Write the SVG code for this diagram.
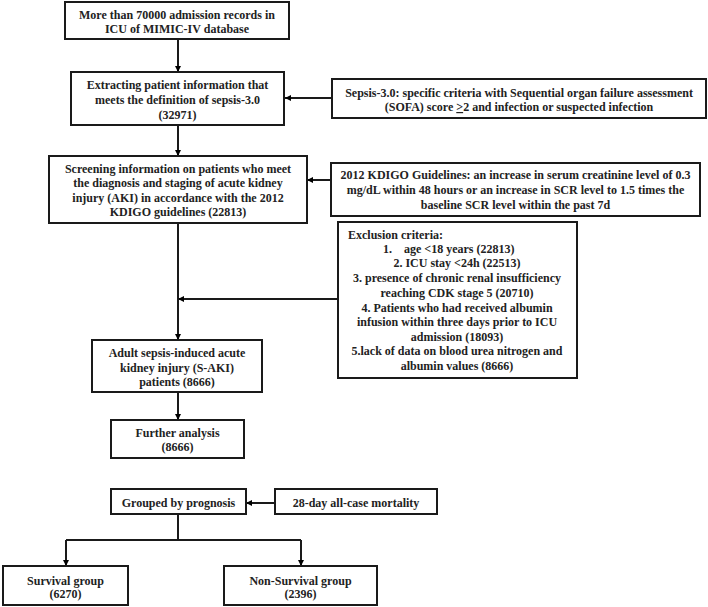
<svg xmlns="http://www.w3.org/2000/svg" width="708" height="607" viewBox="0 0 708 607">
<defs>
<marker id="ah" viewBox="0 0 10 10" refX="10" refY="5" markerWidth="6" markerHeight="6" orient="auto" markerUnits="userSpaceOnUse">
<path d="M0,0 L10,5 L0,10 z" fill="#000"/>
</marker>
<style>
.box{fill:#fff;stroke:#1a1a1a;stroke-width:2}
text{font-family:"Liberation Serif","Times New Roman",serif;font-weight:bold;font-size:12px;fill:#222}
.c{text-anchor:middle}
.ln{fill:none;stroke:#1a1a1a;stroke-width:2}
.ar{fill:none;stroke:#1a1a1a;stroke-width:2;marker-end:url(#ah)}
</style>
</defs>
<rect width="708" height="607" fill="#fff"/>
<g id="connectors">
<path class="ar" d="M178,39 V72"/>
<path class="ar" d="M332,98 H285"/>
<path class="ar" d="M178,125 V156"/>
<path class="ar" d="M331,180 H307"/>
<path class="ln" d="M178,223 V300"/>
<path class="ar" d="M338,299 H178"/>
<path class="ar" d="M178,299 V340"/>
<path class="ar" d="M178,392 V420"/>
<path class="ar" d="M275,503 H246"/>
<path class="ln" d="M178,514 V540 M66,540 H301"/>
<path class="ar" d="M66,540 V566"/>
<path class="ar" d="M301,540 V566"/>
</g>
<g id="n1">
<rect class="box" x="65" y="2" width="224" height="37"/>
<text class="c" x="177" y="19">More than 70000 admission records in</text>
<text class="c" x="177" y="33">ICU of MIMIC-IV database</text>
</g>
<g id="n2">
<rect class="box" x="71" y="72" width="213" height="53"/>
<text class="c" x="177.5" y="89">Extracting patient information that</text>
<text class="c" x="177.5" y="104">meets the definition of sepsis-3.0</text>
<text class="c" x="177.5" y="119">(32971)</text>
</g>
<g id="n-sepsis">
<rect class="box" x="332" y="79" width="374" height="39"/>
<text class="c" x="519" y="97">Sepsis-3.0: specific criteria with Sequential organ failure assessment</text>
<text class="c" x="519" y="111">(SOFA) score <tspan text-decoration="underline">&gt;</tspan>2 and infection or suspected infection</text>
</g>
<g id="n3">
<rect class="box" x="49" y="156" width="258" height="67"/>
<text class="c" x="178" y="173">Screening information on patients who meet</text>
<text class="c" x="178" y="187">the diagnosis and staging of acute kidney</text>
<text class="c" x="178" y="202">injury (AKI) in accordance with the 2012</text>
<text class="c" x="178" y="216">KDIGO guidelines (22813)</text>
</g>
<g id="n-kdigo">
<rect class="box" x="331" y="163" width="369" height="53"/>
<text class="c" x="515.5" y="179">2012 KDIGO Guidelines: an increase in serum creatinine level of 0.3</text>
<text class="c" x="515.5" y="194">mg/dL within 48 hours or an increase in SCR level to 1.5 times the</text>
<text class="c" x="515.5" y="209">baseline SCR level within the past 7d</text>
</g>
<g id="n-exclusion">
<rect class="box" x="338" y="222" width="239" height="156"/>
<text x="348" y="239">Exclusion criteria:</text>
<text x="383" y="253" style="white-space:pre">1.    age &lt;18 years (22813)</text>
<text class="c" x="457" y="267">2. ICU stay &lt;24h (22513)</text>
<text class="c" x="457" y="282">3. presence of chronic renal insufficiency</text>
<text class="c" x="457" y="297">reaching CDK stage 5 (20710)</text>
<text class="c" x="457" y="312">4. Patients who had received albumin</text>
<text class="c" x="457" y="326">infusion within three days prior to ICU</text>
<text class="c" x="457" y="341">admission (18093)</text>
<text class="c" x="457" y="355">5.lack of data on blood urea nitrogen and</text>
<text class="c" x="457" y="370">albumin values (8666)</text>
</g>
<g id="n4">
<rect class="box" x="92" y="340" width="170" height="52"/>
<text class="c" x="177" y="357">Adult sepsis-induced acute</text>
<text class="c" x="177" y="372">kidney injury (S-AKI)</text>
<text class="c" x="177" y="386">patients (8666)</text>
</g>
<g id="n5">
<rect class="box" x="111" y="420" width="133" height="38"/>
<text class="c" x="177.5" y="437">Further analysis</text>
<text class="c" x="177.5" y="451">(8666)</text>
</g>
<g id="n6">
<rect class="box" x="111" y="489" width="135" height="25"/>
<text class="c" x="178.5" y="507">Grouped by prognosis</text>
</g>
<g id="n-mortality">
<rect class="box" x="275" y="489" width="162" height="25"/>
<text class="c" x="356" y="507">28-day all-case mortality</text>
</g>
<g id="n7">
<rect class="box" x="3" y="566" width="125" height="39"/>
<text class="c" x="65.5" y="585">Survival group</text>
<text class="c" x="65.5" y="598">(6270)</text>
</g>
<g id="n8">
<rect class="box" x="224" y="566" width="153" height="39"/>
<text class="c" x="300.5" y="585">Non-Survival group</text>
<text class="c" x="300.5" y="598">(2396)</text>
</g>
</svg>
